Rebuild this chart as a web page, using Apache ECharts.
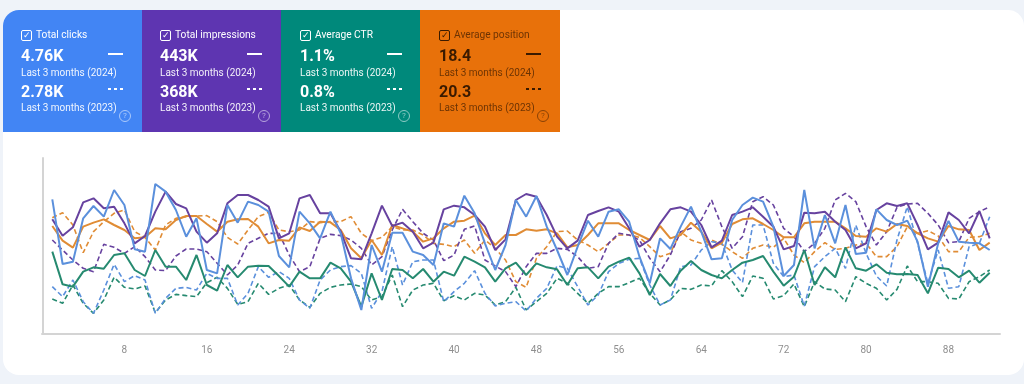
<!DOCTYPE html>
<html>
<head>
<meta charset="utf-8">
<title>Search performance</title>
<script src="https://cdn.jsdelivr.net/npm/echarts@6/dist/echarts.min.js"></script>
<style>
  html, body { margin: 0; padding: 0; width: 1024px; height: 384px; overflow: hidden; background: #eff3f9; font-family: Roboto, sans-serif; }
  .panel { position: absolute; left: 3px; top: 10px; width: 1021px; height: 365px; background: #fff; border-radius: 16px; overflow: hidden; }
  #chart { position: absolute; left: 0; top: 0; width: 1024px; height: 384px; }
  .cards { position: absolute; left: 3px; top: 10px; display: flex; height: 122px; border-top-left-radius: 16px; overflow: hidden; }
  .card { position: relative; width: 139px; color: #fff; }
  .card:last-child { width: 140px; }
  .card.shift > * { margin-left: 1px; }
  .card.dark { color: #3a1a00; }
  .card > * { position: absolute; white-space: nowrap; }
  .box { left: 18px; top: 20px; width: 9px; height: 9px; border: 1px solid currentColor; border-radius: 2px; font-size: 9px; line-height: 9px; text-align: center; }
  .name { left: 33px; top: 18px; font-size: 10.2px; line-height: 14px; }
  .card.dark .name, .card.dark .sub { opacity: .72; }
  .val { left: 18px; font-size: 16px; line-height: 20px; font-weight: 700; }
  .sub { left: 18px; font-size: 10px; line-height: 13px; opacity: .92; }
  .key { left: 105px; width: 15px; height: 2px; background: currentColor; }
  .key.dash { height: 1.5px; background: repeating-linear-gradient(90deg, currentColor 0 3px, transparent 3px 6px); }
  .help { left: 116px; top: 100px; width: 10px; height: 10px; border: 1px solid currentColor; border-radius: 50%; font-size: 8px; line-height: 10px; text-align: center; opacity: .55; }
</style>
</head>
<body>
<div class="panel"></div>
<div id="chart"></div>
<div class="cards" id="cards"></div>
<script>
  // 卡片数据
  const cardNames = ['Total clicks', 'Total impressions', 'Average CTR', 'Average position']
  const cardValues2024 = ['4.76K', '443K', '1.1%', '18.4']
  const cardValues2023 = ['2.78K', '368K', '0.8%', '20.3']
  const period2024 = 'Last 3 months (2024)'
  const period2023 = 'Last 3 months (2023)'
  const cardColors = ['#4285f4', '#5e35b1', '#00897b', '#e8710a']

  // 横坐标刻度
  const xInterval = 8

  // 2024 实线
  const clicks2024 = [404,210,217,347,384,352,432,387,254,247,450,427,372,292,347,192,182,387,334,397,387,367,234,
    200,367,332,287,367,302,167,72,267,187,304,304,247,237,207,332,322,415,362,272,192,267,402,
    352,414,322,252,177,262,340,292,367,374,337,232,152,287,255,322,382,307,224,227,342,387,409,
    397,322,174,207,432,257,357,272,387,240,244,374,342,327,340,277,142,272,339,277,274,272,252]
  const impressions2024 = [344,295,320,395,407,377,382,332,272,294,367,427,390,377,307,274,302,392,417,417,402,382,287,
    302,407,417,362,362,307,227,224,302,385,324,334,307,257,274,374,385,380,357,322,252,284,402,
    420,412,357,292,257,280,357,369,380,367,317,262,282,332,374,380,367,327,260,280,357,367,380,
    352,322,254,264,364,362,367,337,312,257,272,372,392,384,392,327,254,274,365,342,302,369,287]
  const ctr2024 = [247,149,142,187,200,196,237,242,192,174,252,202,202,162,237,147,130,207,170,202,205,204,174,
    142,187,167,167,214,197,157,82,182,102,195,192,167,195,157,187,175,232,217,200,157,197,214,
    177,212,200,194,147,197,200,167,202,217,229,182,117,180,144,190,219,192,177,167,192,214,222,
    234,187,145,172,252,147,200,170,260,197,190,209,184,179,180,177,122,199,195,170,190,154,184]
  const position2024 = [324,280,259,322,334,344,327,312,287,290,317,314,342,354,354,330,307,337,344,345,322,272,282,
    280,320,309,337,335,312,257,227,282,237,327,317,307,277,287,317,337,340,355,302,267,297,297,
    314,310,314,302,260,267,297,332,332,332,312,297,282,324,287,297,334,307,257,274,330,344,347,
    330,312,290,290,332,337,337,337,317,294,292,317,307,330,324,302,287,277,324,314,312,252,274]

  // 2023 虚线
  const clicks2023 = [142,112,162,97,62,132,209,157,175,162,62,107,137,140,132,182,167,167,87,122,202,170,187,
    167,102,77,162,192,202,205,182,77,127,262,147,217,222,222,97,127,152,190,122,84,92,97,
    69,107,137,205,197,142,87,117,187,212,224,227,147,87,102,202,207,252,277,272,192,154,327,
    327,212,172,177,84,202,232,257,197,327,242,174,144,282,382,272,152,252,137,142,262,272,352]
  const impressions2023 = [282,252,222,197,187,269,260,242,262,232,192,190,234,255,255,247,212,177,207,272,287,302,302,
    237,187,202,287,299,295,282,257,207,232,312,374,337,302,282,220,237,314,324,222,204,187,142,
    202,242,242,257,254,232,197,202,272,302,297,282,227,187,237,307,317,342,402,322,257,292,397,
    412,387,317,292,247,272,317,402,422,397,322,267,307,380,390,392,362,327,274,277,347,367,382]
  const ctr2023 = [105,92,147,92,62,102,170,140,135,144,64,102,119,115,112,154,170,137,89,97,152,119,137,
    147,102,80,122,140,147,150,142,102,112,177,82,132,147,152,100,115,102,122,117,87,97,140,
    72,97,122,167,152,122,92,122,142,142,154,167,122,87,102,137,134,147,144,190,157,112,174,
    167,105,115,150,82,157,135,132,97,172,152,137,102,134,204,157,157,152,107,105,157,172,192]
  const position2023 = [349,364,327,244,307,337,362,372,307,290,252,327,347,352,354,355,337,290,270,312,352,365,312,
    307,312,337,334,337,337,352,302,280,290,322,312,312,297,272,269,262,282,242,282,257,222,157,
    140,227,262,307,309,282,267,247,272,297,297,290,262,232,242,307,282,272,282,269,247,227,257,
    267,260,287,237,214,247,274,254,257,267,272,232,232,262,322,302,310,294,247,247,290,292,302]

  const lineBlue = '#5b90dc'
  const linePurple = '#67429f'
  const lineGreen = '#268a70'
  const lineOrange = '#e08c35'

  const makeSeries = (name, values, color, dashed) => ({
    name,
    type: 'line',
    data: values.map((v, i) => [i + 1, v]),
    showSymbol: false,
    silent: true,
    lineStyle: { color, width: dashed ? 1.6 : 2, type: dashed ? [5, 3] : 'solid' }
  })

  // 卡片
  document.getElementById('cards').innerHTML = cardNames.map((name, i) => `
    <div class="card ${i >= 2 ? 'shift' : ''} ${i === 3 ? 'dark' : ''}" style="background:${cardColors[i]}">
      <div class="box">&#10003;</div>
      <div class="name">${name}</div>
      <div class="val" style="top:36px">${cardValues2024[i]}</div>
      <div class="key" style="top:43px"></div>
      <div class="sub" style="top:56px">${period2024}</div>
      <div class="val" style="top:72px">${cardValues2023[i]}</div>
      <div class="key dash" style="top:78px"></div>
      <div class="sub" style="top:91px">${period2023}</div>
      <div class="help">?</div>
    </div>`).join('')

  const chartOptions = {
    animation: false,
    grid: { left: 42, right: 24, top: 158, bottom: 50 },
    xAxis: {
      type: 'value',
      min: 0,
      max: 93,
      interval: xInterval,
      splitLine: { show: false },
      axisTick: { show: false },
      axisLine: { lineStyle: { color: '#d4d4d4', width: 2 } },
      axisLabel: {
        color: '#8f8f8f',
        fontSize: 10,
        fontFamily: 'Roboto',
        margin: 11,
        showMaxLabel: false,
        formatter: (v) => (v === 0 ? '' : String(v))
      }
    },
    yAxis: {
      type: 'value',
      min: 0,
      max: 528,
      offset: -1,
      splitLine: { show: false },
      axisTick: { show: false },
      axisLabel: { show: false },
      axisLine: { show: true, lineStyle: { color: '#d4d4d4', width: 2 } }
    },
    series: [
      makeSeries('Average position 2023', position2023, lineOrange, true),
      makeSeries('Average CTR 2023', ctr2023, lineGreen, true),
      makeSeries('Total clicks 2023', clicks2023, lineBlue, true),
      makeSeries('Total impressions 2023', impressions2023, linePurple, true),
      makeSeries('Average position 2024', position2024, lineOrange, false),
      makeSeries('Average CTR 2024', ctr2024, lineGreen, false),
      makeSeries('Total impressions 2024', impressions2024, linePurple, false),
      makeSeries('Total clicks 2024', clicks2024, lineBlue, false)
    ]
  }

  const chartInstance = echarts.init(document.getElementById('chart'))
  chartInstance.setOption(chartOptions)
</script>
</body>
</html>
